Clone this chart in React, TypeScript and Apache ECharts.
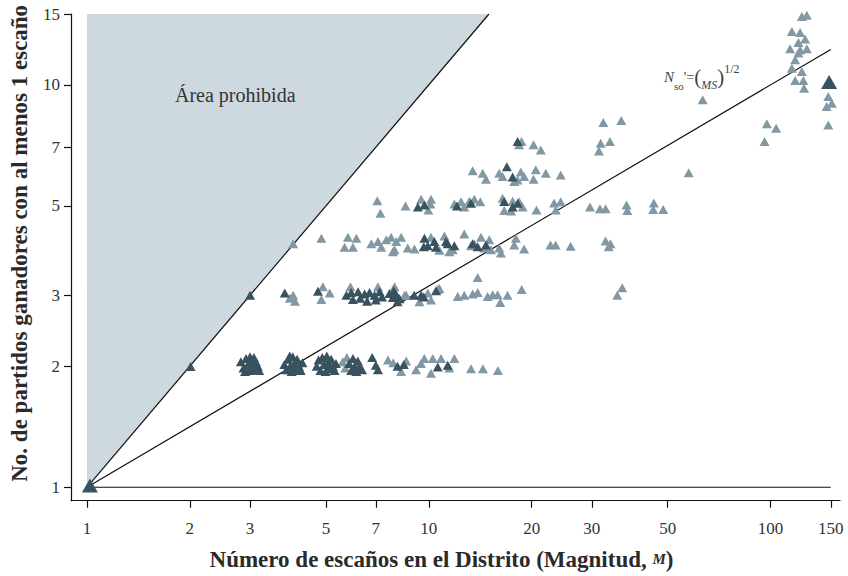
import React, { useEffect, useRef } from "react";
import * as echarts from "echarts";

// ---------- data ----------
const xTicks = [1, 2, 3, 5, 7, 10, 20, 30, 50, 100, 150];
const yTicks = [1, 2, 3, 5, 7, 10, 15];

// Districts: [magnitude M, winning parties N] (jittered, as in the original plot)
const darkPoints: number[][] = [
  [2.01, 1.995], [3.0, 3.0],
  // M=3, N=2
  [2.82, 2.05], [2.87, 1.98], [2.92, 2.09], [2.95, 2.01], [2.99, 1.95], [3.02, 2.06], [3.05, 2.0],
  [3.09, 1.96], [3.12, 2.05], [3.16, 2.0], [3.19, 1.95], [2.9, 1.94], [3.0, 2.11], [3.08, 2.1],
  // M=4, N=2
  [3.78, 2.02], [3.83, 1.96], [3.88, 2.08], [3.93, 2.0], [3.97, 1.94], [4.0, 2.11], [4.04, 2.03],
  [4.08, 1.96], [4.12, 2.08], [4.17, 2.0], [4.22, 1.95], [4.27, 2.04], [3.92, 2.12],
  // M=5, N=2
  [4.7, 2.0], [4.76, 2.07], [4.82, 1.95], [4.88, 2.1], [4.94, 2.02], [4.99, 1.94], [5.03, 2.12],
  [5.07, 2.04], [5.12, 1.97], [5.18, 2.08], [5.24, 2.0], [5.3, 1.95], [5.35, 2.03],
  // M=6..11, N=2
  [5.85, 2.03], [5.93, 1.95], [6.0, 2.09], [6.07, 2.0], [6.14, 1.94], [6.2, 2.06], [6.28, 2.0], [6.38, 1.96],
  [6.83, 2.1], [7.0, 2.01], [7.1, 1.96], [8.1, 2.0], [8.45, 2.02], [10.62, 1.99], [11.36, 2.01],
  // N=3
  [3.79, 3.04], [4.74, 3.07],
  [5.74, 3.0], [5.93, 3.05], [6.0, 2.93], [6.21, 3.06], [6.3, 2.95], [6.49, 3.02], [6.6, 2.9], [6.71, 3.05],
  [6.94, 3.0], [7.0, 2.92], [7.18, 3.06], [7.3, 2.97], [7.67, 3.03], [7.85, 2.96], [7.9, 3.08], [8.03, 3.01],
  [8.21, 2.94], [8.1, 2.89], [9.06, 3.0], [9.5, 3.0], [9.67, 2.97], [10.5, 3.08],
  // N=4
  [9.71, 4.16], [9.93, 3.98], [10.38, 4.08], [10.5, 3.95], [11.23, 4.08], [11.36, 4.03], [11.88, 3.98],
  [13.44, 4.03], [13.9, 3.96], [14.7, 4.0], [9.67, 3.96],
  // N=5..7
  [9.29, 4.97], [9.71, 5.03], [12.09, 5.0], [13.29, 5.08], [16.62, 5.13], [17.59, 4.97], [18.19, 5.08],
  [16.92, 6.26], [17.59, 5.9], [18.19, 7.23],
];

const lightPoints: number[][] = [
  // N=2
  [5.6, 2.05], [5.7, 1.98], [5.76, 2.1], [7.6, 2.07], [7.87, 2.04], [8.59, 2.06], [8.3, 1.94],
  [9.18, 1.96], [9.49, 2.03], [9.7, 2.09], [10.27, 2.09], [10.86, 2.09], [11.48, 1.98], [11.88, 2.09],
  [10.15, 1.92], [13.29, 1.97], [14.4, 1.97], [15.93, 1.95],
  // N=3
  [4.01, 3.0], [3.92, 2.95], [4.06, 2.9], [4.9, 3.15], [5.13, 3.04], [4.85, 2.93],
  [5.9, 3.15], [7.1, 3.15], [7.94, 3.15], [8.59, 3.0], [10.15, 2.92], [10.62, 3.1], [10.74, 3.12],
  [9.93, 3.04], [8.5, 3.0], [9.39, 2.89],
  [12.15, 2.98], [12.7, 3.0], [13.44, 3.02], [13.9, 3.05], [14.86, 2.98], [15.38, 3.01], [15.9, 3.01],
  [17.0, 3.0], [16.18, 2.88], [18.7, 3.1], [13.9, 3.32], [35.6, 3.0], [36.8, 3.13],
  // N=4
  [4.01, 4.03], [4.85, 4.16], [5.8, 4.18], [6.14, 4.16], [5.67, 3.95], [6.0, 3.95],
  [6.79, 4.03], [7.1, 4.08], [7.26, 3.95], [7.51, 4.12], [7.76, 4.18], [8.03, 4.08], [8.3, 4.18],
  [7.94, 3.89], [7.85, 3.85], [8.68, 3.93], [9.08, 3.91],
  [10.15, 4.18], [11.11, 4.21], [10.74, 3.88], [11.48, 3.85], [11.75, 3.89],
  [12.7, 4.26], [13.29, 3.98], [13.59, 4.03], [14.21, 4.18], [14.53, 3.93], [15.03, 4.12], [15.2, 3.89],
  [16.07, 3.93], [16.25, 3.82], [17.98, 4.16], [17.78, 4.0], [19.0, 3.91],
  [22.7, 4.0], [23.5, 4.0], [26.0, 3.97], [32.9, 4.09], [34.0, 4.03], [33.6, 3.96],
  // N=5
  [7.07, 5.15], [7.22, 4.8], [8.55, 5.0], [9.5, 5.2], [10.15, 5.2], [10.11, 5.06], [9.97, 4.89],
  [11.88, 5.06], [12.43, 5.12], [13.14, 5.14], [13.59, 5.2], [14.15, 5.12], [12.7, 4.97],
  [16.44, 5.23], [17.59, 5.14], [18.38, 5.12], [18.81, 4.97], [16.62, 4.87], [17.4, 4.86],
  [20.66, 4.89], [23.26, 5.09], [24.32, 5.12], [23.52, 4.89],
  [29.62, 4.97], [31.67, 4.92], [32.91, 4.92], [37.9, 5.03], [38.08, 4.87], [45.53, 5.09], [45.35, 4.9], [48.5, 4.9],
  // N=6
  [13.44, 6.12], [14.38, 6.03], [14.7, 5.83], [16.07, 6.03], [16.44, 5.92], [18.59, 6.07], [19.01, 5.92],
  [17.78, 5.75], [18.19, 5.8], [20.56, 6.15], [20.25, 5.83], [22.0, 6.03], [24.32, 5.97], [57.6, 6.05],
  // N=7..9
  [18.68, 7.23], [18.38, 7.1], [20.25, 7.1], [21.27, 6.89], [31.83, 7.16], [33.88, 7.23], [31.47, 6.85],
  [32.4, 8.06], [36.57, 8.15], [63.3, 9.18],
  // large districts
  [97.5, 8.0], [103.8, 7.8], [96.0, 7.23],
  [123.4, 14.78], [127.6, 14.9], [115.4, 13.57], [122.0, 13.5], [120.6, 12.74], [126.2, 13.0],
  [114.0, 12.3], [120.6, 12.0], [127.6, 12.3], [122.0, 12.2], [118.0, 11.54], [115.4, 11.0],
  [123.4, 10.79], [118.0, 10.25], [124.7, 10.25], [125.3, 9.81],
  [147.5, 9.35], [151.0, 9.0], [145.9, 8.83], [147.5, 7.95],
];

const bigPoints: number[][] = [[1.02, 1.01], [148.3, 10.17]];

const forbiddenArea: number[][] = [[1, 1], [1, 15], [15, 15]];
const diagonalLine: number[][] = [[1, 1], [15, 15]];
const sqrtLine: number[][] = [[1, 1], [150, 12.25]];
const baseLine: number[][] = [[1, 1], [150, 1]];

// ---------- helpers ----------
const lg = (p: number[]) => [Math.log10(p[0]), Math.log10(p[1])];
const FONT = "'Liberation Serif', 'Times New Roman', serif";
const DARK = "#38525f";
const LIGHT = "#8299a5";

export default function App() {
  const ref = useRef<HTMLDivElement>(null);

  useEffect(() => {
    if (!ref.current) return;
    const chart = echarts.init(ref.current, undefined, { renderer: "svg" });

    const lineSeries = (data: number[][]) => ({
      type: "line",
      data: data.map(lg),
      symbol: "none",
      silent: true,
      lineStyle: { color: "#111", width: 1.2 },
      z: 3,
    });

    chart.setOption({
      animation: false,
      backgroundColor: "#fff",
      grid: { left: 69, right: 8, top: 14, bottom: 75.3, containLabel: false },
      xAxis: {
        type: "value",
        min: Math.log10(0.898),
        max: Math.log10(159.6),
        name: "Número de escaños en el Distrito (Magnitud, {sc|M})",
        nameLocation: "middle",
        nameGap: 47,
        nameTextStyle: {
          fontFamily: FONT,
          fontSize: 23,
          fontWeight: "bold",
          color: "#2a2a2a",
          padding: [0, 28, 0, 0],
          rich: { sc: { fontFamily: FONT, fontSize: 15, fontStyle: "italic", color: "#2a2a2a" } },
        },
        axisLine: { show: true, onZero: false, lineStyle: { color: "#111", width: 1.2 } },
        axisTick: {
          show: true,
          length: 7,
          inside: false,
          customValues: xTicks.map(Math.log10),
          lineStyle: { color: "#111", width: 1.2 },
        },
        axisLabel: {
          customValues: xTicks.map(Math.log10),
          formatter: (v: number) => String(Math.round(Math.pow(10, v))),
          margin: 19,
          fontFamily: FONT,
          fontSize: 17,
          color: "#333",
        },
        splitLine: { show: false },
      },
      yAxis: {
        type: "value",
        min: Math.log10(0.926),
        max: Math.log10(15),
        name: "No. de partidos ganadores con al menos 1 escaño",
        nameLocation: "middle",
        nameGap: 40,
        nameTextStyle: {
          fontFamily: FONT,
          fontSize: 23,
          fontWeight: "bold",
          color: "#2a2a2a",
          padding: [0, 0, 0, 28],
        },
        axisLine: { show: true, onZero: false, lineStyle: { color: "#111", width: 1.2 } },
        axisTick: {
          show: true,
          length: 7,
          inside: false,
          customValues: yTicks.map(Math.log10),
          lineStyle: { color: "#111", width: 1.2 },
        },
        axisLabel: {
          customValues: yTicks.map(Math.log10),
          formatter: (v: number) => String(Math.round(Math.pow(10, v))),
          margin: 11,
          fontFamily: FONT,
          fontSize: 17,
          color: "#333",
        },
        splitLine: { show: false },
      },
      series: [
        {
          type: "custom",
          name: "Área prohibida",
          data: [lg(forbiddenArea[0])],
          silent: true,
          z: 1,
          renderItem: (_params: any, api: any) => ({
            type: "polygon",
            shape: { points: forbiddenArea.map((p) => api.coord(lg(p))) },
            style: { fill: "#cdd8df" },
          }),
        },
        lineSeries(diagonalLine),
        lineSeries(sqrtLine),
        lineSeries(baseLine),
        {
          type: "scatter",
          name: "light",
          data: lightPoints.map(lg),
          symbol: "triangle",
          symbolSize: [10, 9],
          itemStyle: { color: LIGHT, opacity: 1 },
          z: 4,
        },
        {
          type: "scatter",
          name: "dark",
          data: darkPoints.map(lg),
          symbol: "triangle",
          symbolSize: [10, 9],
          itemStyle: { color: DARK, opacity: 1 },
          z: 5,
        },
        {
          type: "scatter",
          name: "big",
          data: bigPoints.map(lg),
          symbol: "triangle",
          symbolSize: [16, 14],
          itemStyle: { color: DARK, opacity: 1 },
          z: 6,
        },
      ],
      graphic: [
        {
          type: "text",
          x: 175,
          y: 95,
          z: 10,
          style: {
            text: "Área prohibida",
            fontFamily: FONT,
            fontSize: 20,
            fill: "#333",
            verticalAlign: "middle",
          },
        },
        {
          type: "text",
          x: 664,
          y: 77,
          z: 10,
          style: {
            text: "{n|N}{s|so}{a|'=}{p|(}{m|MS}{p|)}{u|1/2}",
            verticalAlign: "middle",
            lineHeight: 28,
            rich: {
              n: { fontFamily: FONT, fontSize: 15, fontStyle: "italic", fill: "#444", lineHeight: 28, verticalAlign: "middle" },
              s: { fontFamily: FONT, fontSize: 11, fill: "#444", lineHeight: 12, verticalAlign: "bottom" },
              a: { fontFamily: FONT, fontSize: 14, fill: "#444", lineHeight: 28, verticalAlign: "middle" },
              p: { fontFamily: FONT, fontSize: 21, fill: "#444", lineHeight: 28, verticalAlign: "middle" },
              m: { fontFamily: FONT, fontSize: 12, fontStyle: "italic", fill: "#444", lineHeight: 26, verticalAlign: "bottom" },
              u: { fontFamily: FONT, fontSize: 12, fill: "#444", lineHeight: 14, verticalAlign: "top" },
            },
          },
        },
      ],
    });

    return () => chart.dispose();
  }, []);

  return (
    <div
      ref={ref}
      style={{ position: "fixed", left: 0, top: 0, width: 848, height: 576, background: "#fff" }}
    />
  );
}
